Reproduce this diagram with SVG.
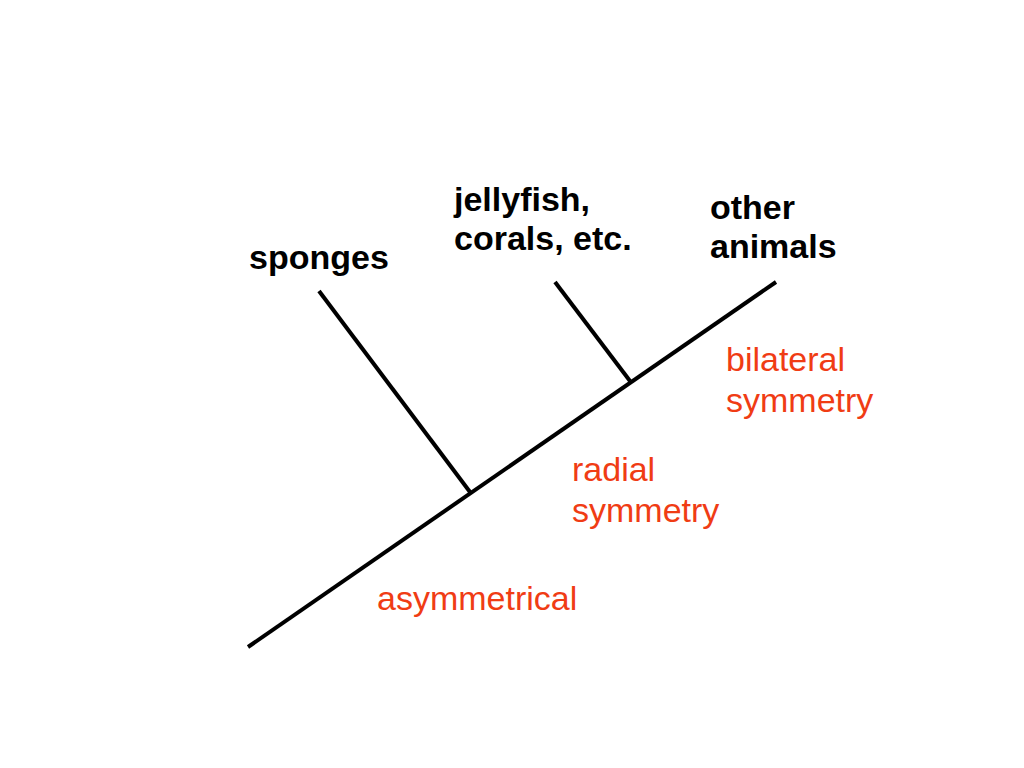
<svg xmlns="http://www.w3.org/2000/svg" width="1024" height="768" viewBox="0 0 1024 768">
<style>
.lbl{font-family:"Liberation Sans",Arial,sans-serif;font-size:34px;font-weight:bold;fill:#000}
.red{font-family:"Liberation Sans",Arial,sans-serif;font-size:34px;fill:#F03C14}
.ln{stroke:#000;stroke-width:4;fill:none}
</style>
<rect width="1024" height="768" fill="#fff"/>
<g id="connectors">
<line class="ln" x1="248" y1="647" x2="776" y2="282"/>
<line class="ln" x1="319" y1="291" x2="470" y2="492"/>
<line class="ln" x1="555" y1="282" x2="630" y2="381"/>
</g>
<g id="sponges"><text class="lbl" x="249" y="269">sponges</text></g>
<g id="jellyfish"><text class="lbl" x="454" y="211">jellyfish,</text><text class="lbl" x="454" y="250">corals, etc.</text></g>
<g id="other"><text class="lbl" x="710" y="219">other</text><text class="lbl" x="710" y="258">animals</text></g>
<g id="bilateral"><text class="red" x="726" y="371">bilateral</text><text class="red" x="726" y="412">symmetry</text></g>
<g id="radial"><text class="red" x="572" y="481">radial</text><text class="red" x="572" y="522">symmetry</text></g>
<g id="asymmetrical"><text class="red" x="377" y="610">asymmetrical</text></g>
</svg>
